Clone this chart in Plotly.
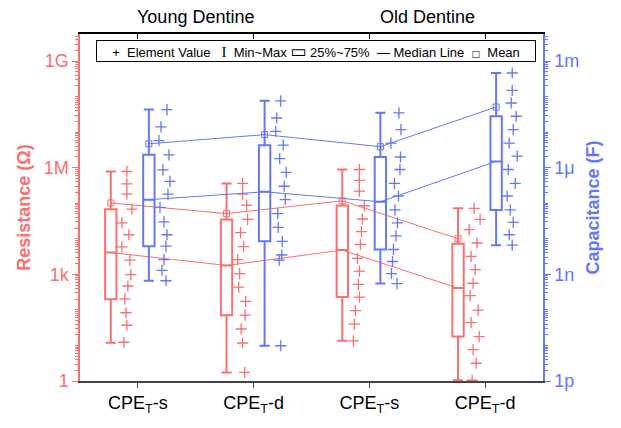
import plotly.graph_objects as go

# ---------------- data ----------------
categories = ["CPE<sub>T</sub>-s", "CPE<sub>T</sub>-d", "CPE<sub>T</sub>-s", "CPE<sub>T</sub>-d"]
groups = ["Young Dentine", "Old Dentine"]

# Resistance (Ohm) element values per category
res_points = [
    [7.8e5, 3.5e5, 1.8e5, 6.8e4, 2.8e4, 1.3e4, 5.9e3, 2.5e3, 980, 470, 204, 83, 37, 12.3],
    [3.6e5, 1.8e5, 8.9e4, 3.5e4, 1.5e4, 6.0e3, 2.6e3, 1050, 437, 174, 71, 29, 11.7, 1.74],
    [8.9e5, 4.4e5, 2.2e5, 8.5e4, 3.6e4, 1.6e4, 6.9e3, 2.8e3, 1230, 525, 229, 95, 40, 13.5],
    [7.2e4, 3.5e4, 1.8e4, 7.6e3, 3.2e3, 1350, 562, 251, 98, 44, 17.8, 7.6, 3.16, 1.05],
]
res_min = [12.0, 1.74, 13.5, 1.05]
res_q1 = [200, 71, 229, 17.8]
res_median = [4100, 1780, 4800, 410]
res_q3 = [6.8e4, 3.5e4, 8.7e4, 7.2e3]
res_max = [7.8e5, 3.6e5, 8.9e5, 7.2e4]
res_mean = [1.02e5, 5.1e4, 1.17e5, 1.0e4]

# Capacitance (F) element values per category
cap_points = [
    [4.3e-5, 1.4e-5, 5.8e-6, 2.3e-6, 8.7e-7, 4.1e-7, 1.8e-7, 7.6e-8, 3.0e-8, 1.3e-8, 6.2e-9, 2.6e-9, 1.3e-9, 6.6e-10],
    [7.6e-5, 2.5e-5, 1.05e-5, 4.3e-6, 1.8e-6, 7.4e-7, 3.0e-7, 1.26e-7, 5.1e-8, 2.1e-8, 8.5e-9, 3.5e-9, 2.5e-9, 9.8e-12],
    [3.5e-5, 1.17e-5, 4.9e-6, 2.0e-6, 8.9e-7, 3.6e-7, 1.6e-7, 6.5e-8, 2.8e-8, 1.2e-8, 5.0e-9, 2.3e-9, 1.05e-9, 5.5e-10],
    [4.6e-4, 1.5e-4, 6.6e-5, 2.8e-5, 1.17e-5, 4.9e-6, 2.1e-6, 8.9e-7, 3.6e-7, 1.6e-7, 6.5e-8, 2.9e-8, 1.3e-8, 6.6e-9],
]
cap_min = [6.6e-10, 9.8e-12, 5.5e-10, 6.6e-9]
cap_q1 = [6.2e-9, 8.5e-9, 5.0e-9, 6.5e-8]
cap_median = [1.26e-7, 2.1e-7, 1.1e-7, 1.5e-6]
cap_q3 = [2.3e-6, 4.3e-6, 2.0e-6, 2.8e-5]
cap_max = [4.3e-5, 7.6e-5, 3.5e-5, 4.6e-4]
cap_mean = [4.7e-6, 8.5e-6, 3.9e-6, 5.1e-5]

res_ticks = [1, 1e3, 1e6, 1e9]
res_ticklabels = ["1", "1k", "1M", "1G"]
cap_ticks = [1e-12, 1e-9, 1e-6, 1e-3]
cap_ticklabels = ["1p", "1n", "1\u03bc", "1m"]

# ---------------- layout / style ----------------
RED = "rgb(248,112,112)"
BLUE = "rgb(100,120,245)"
FONT = "Liberation Sans, Arial, sans-serif"
PX_PER_UNIT = 115.75
RES_BOX_OFF, CAP_BOX_OFF = -0.234, 0.095
RES_PT_OFF, CAP_PT_OFF = -0.095, 0.234
# horizontal scatter of the element points (pixels)
res_jitter = [
    [0, 0, 0, 5, -5, 2, -5, 3, 4, 1, -2, -1, 0, -3],
    [0, 0, 4, 5, -2, 1, -5, -3, -4, 3, 2.5, -1.5, 0, 2],
    [1, 1, 1, 6, 4, 3, 2, -1, 1, 0, 1, -3, -4, -5],
    [0, 6, -5, 3, -3, 1, -1, -4, 4, -3, 5, -1, 2, -2],
]
cap_jitter = [
    [2, -4, -6, 4, -2, 5, 3, -5, -1, 2, 1, -1, -3, 1],
    [0, -4, -5, 2.5, -1, 5.5, 3.5, 4.5, -3, -2.5, 1.5, 1, -1.5, 0],
    [2.5, 4.5, -5.5, 4, 3.5, -2, 2, -1.5, 1, -0.5, -3, -4, -5, 0.5],
    [0, 0, -1, 4, 1, -3, 5, -4, 3, -5, -2, 1, -3, 0],
]

pos = [1, 2, 3, 4]
fig = go.Figure()

def add_series(points, jit, pt_off, box_off, q1, med, q3, lo, hi, mean, color, yaxis):
    xs, ys = [], []
    for i, (pts, jj) in enumerate(zip(points, jit)):
        for v, j in zip(pts, jj):
            xs.append(pos[i] + pt_off + j / PX_PER_UNIT)
            ys.append(v)
    fig.add_trace(go.Scatter(x=xs, y=ys, mode="markers", yaxis=yaxis, showlegend=False,
                             marker=dict(symbol="cross-thin", size=8, color=color,
                                         line=dict(color=color, width=1.3))))
    bx = [p + box_off for p in pos]
    fig.add_trace(go.Box(x=bx, q1=q1, median=med, q3=q3, lowerfence=lo, upperfence=hi,
                         yaxis=yaxis, width=0.098, whiskerwidth=0.9, boxpoints=False,
                         line=dict(color=color, width=2), fillcolor="rgba(0,0,0,0)",
                         showlegend=False, hoverinfo="skip"))
    fig.add_trace(go.Scatter(x=bx, y=med, mode="lines", yaxis=yaxis, showlegend=False,
                             line=dict(color=color, width=1)))
    fig.add_trace(go.Scatter(x=bx, y=mean, mode="lines+markers", yaxis=yaxis, showlegend=False,
                             line=dict(color=color, width=1),
                             marker=dict(symbol="square-open", size=6, color=color,
                                         line=dict(color=color, width=1))))

add_series(res_points, res_jitter, RES_PT_OFF, RES_BOX_OFF, res_q1, res_median, res_q3,
           res_min, res_max, res_mean, RED, "y")
add_series(cap_points, cap_jitter, CAP_PT_OFF, CAP_BOX_OFF, cap_q1, cap_median, cap_q3,
           cap_min, cap_max, cap_mean, BLUE, "y2")

# invisible trace on top axis so it is drawn
fig.add_trace(go.Scatter(x=[1], y=[1], xaxis="x2", mode="markers", opacity=0,
                         showlegend=False, hoverinfo="skip"))

res_minor = [m * 10 ** k for k in range(0, 10) for m in range(1, 10) if not (m == 1 and 10 ** k in res_ticks)]
cap_minor = [m * 10.0 ** k for k in range(-12, -2) for m in range(1, 10) if not (m == 1 and k % 3 == 0)]

fig.update_layout(
    width=621, height=428,
    margin=dict(l=80, r=78, t=34, b=40),
    paper_bgcolor="white", plot_bgcolor="white",
    font=dict(family=FONT, size=18, color="black"),
    boxmode="overlay",
    showlegend=False,
    xaxis=dict(range=[0.5, 4.5], tickvals=pos, ticktext=categories, ticks="outside",
               ticklen=5, tickcolor="#444", showline=True, linecolor="#444", linewidth=1.5,
               showgrid=False, zeroline=False, tickfont=dict(size=18, color="black")),
    xaxis2=dict(range=[0.5, 4.5], overlaying="x", side="top", tickvals=pos, ticks="inside",
                ticklen=5, tickcolor="black", showticklabels=False, showline=True,
                linecolor="black", linewidth=1.5, showgrid=False, zeroline=False),
    yaxis=dict(type="log", range=[0, 9.76], tickvals=res_ticks, ticktext=res_ticklabels,
               ticks="outside", ticklen=6, tickcolor=RED, showline=True, linecolor=RED,
               linewidth=1.5, showgrid=False, zeroline=False,
               tickfont=dict(size=18, color=RED),
               minor=dict(tickvals=res_minor, ticks="outside", ticklen=3, tickcolor=RED),
               title=dict(text="<b>Resistance (\u03a9)</b>", font=dict(size=18, color=RED),
                          standoff=8)),
    yaxis2=dict(type="log", range=[-12, -2.24], overlaying="y", side="right",
                tickvals=cap_ticks, ticktext=cap_ticklabels,
                ticks="outside", ticklen=6, tickcolor=BLUE, showline=True, linecolor=BLUE,
                linewidth=1.5, showgrid=False, zeroline=False,
                tickfont=dict(size=18, color=BLUE),
                minor=dict(tickvals=cap_minor, ticks="outside", ticklen=3, tickcolor=BLUE),
                title=dict(text="<b>Capacitance (F)</b>", font=dict(size=18, color=BLUE),
                           standoff=8)),
)

for gx, g in zip([1.5, 3.5], groups):
    fig.add_annotation(x=gx, xref="x", y=1.048, yref="paper", text=g, showarrow=False,
                       font=dict(size=18, color="black"), yanchor="middle")

legend_text = ("+&nbsp;&nbsp;Element Value&nbsp;&nbsp;&nbsp;<span style='font-family:Liberation Serif;font-size:15px'>I</span>&nbsp;&nbsp;Min~Max"
               "&nbsp;<span style='font-family:DejaVu Sans;font-size:17px'>\u25ad</span>&nbsp;25%~75%&nbsp;&nbsp;"
               "\u2014&nbsp;Median Line&nbsp;&nbsp;<span style='font-family:DejaVu Sans;font-size:9px'>\u25a1</span>&nbsp;&nbsp;Mean")
fig.add_annotation(x=0.509, xref="paper", y=0.9506, yref="paper", text=legend_text,
                   showarrow=False, font=dict(size=13, color="black"),
                   bordercolor="black", borderwidth=1, bgcolor="white", borderpad=0,
                   width=438, align="center",
                   xanchor="center", yanchor="middle")

fig.write_html("out.html")
